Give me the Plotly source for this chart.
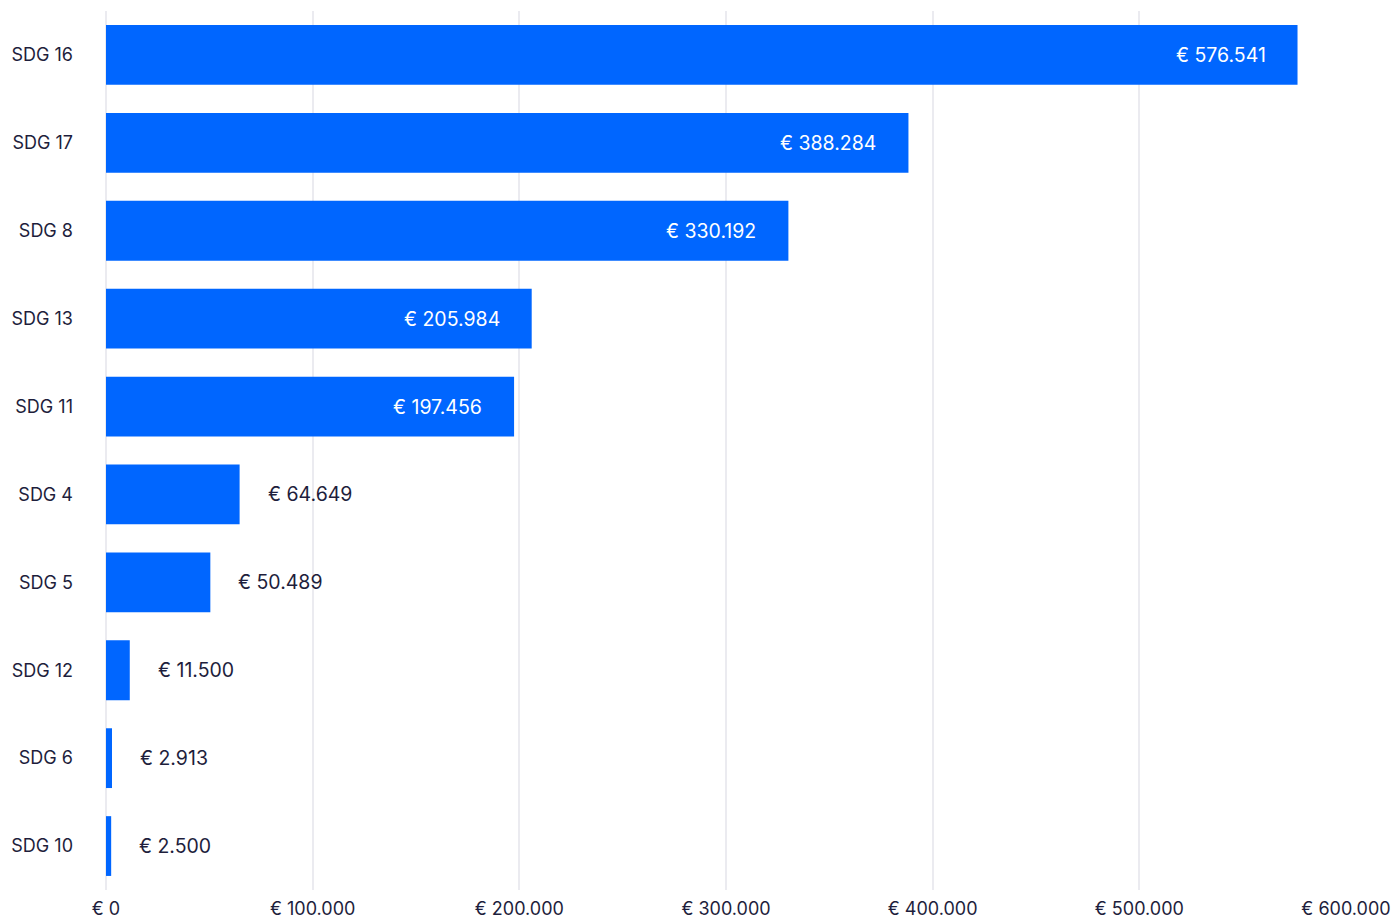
import plotly.graph_objects as go

categories = ["SDG 16", "SDG 17", "SDG 8", "SDG 13", "SDG 11", "SDG 4", "SDG 5", "SDG 12", "SDG 6", "SDG 10"]
values = [576541, 388284, 330192, 205984, 197456, 64649, 50489, 11500, 2913, 2500]
tick_vals = [0, 100000, 200000, 300000, 400000, 500000, 600000]
tick_text = ["€ 0", "€ 100.000", "€ 200.000", "€ 300.000", "€ 400.000", "€ 500.000", "€ 600.000"]

def fmt(v):
    return "€ " + f"{v:,}".replace(",", ".")

BLUE = "#0066FF"
DARK = "#1E1E3C"
FONT = "Inter, Lato, sans-serif"

fig = go.Figure()
fig.add_trace(go.Bar(
    x=values, y=categories, orientation="h",
    marker=dict(color=BLUE, line=dict(width=0)),
    hoverinfo="skip",
))

annotations = []
for c, v in zip(categories, values):
    inside = v > 100000
    annotations.append(dict(
        x=v, y=c, xref="x", yref="y",
        text=fmt(v), showarrow=False,
        xanchor="right" if inside else "left",
        xshift=-30 if inside else 26,
        font=dict(family=FONT, size=19.5, color="white" if inside else DARK),
    ))

fig.update_layout(
    width=1392, height=919,
    margin=dict(l=106, r=46, t=11, b=29),
    paper_bgcolor="white", plot_bgcolor="white",
    bargap=0.32,
    showlegend=False,
    annotations=annotations,
    font=dict(family=FONT, color=DARK, size=18),
    xaxis=dict(
        range=[0, 600000], tickvals=tick_vals, ticktext=tick_text,
        showgrid=True, gridcolor="#EBEBF0", gridwidth=1.5,
        zeroline=True, zerolinecolor="#EBEBF0", zerolinewidth=1.5,
        showline=False, ticks="", automargin=False,
        tickfont=dict(family=FONT, size=18, color=DARK),
        ticklabelstandoff=6,
    ),
    yaxis=dict(
        categoryorder="array", categoryarray=categories[::-1],
        showgrid=False, zeroline=False, showline=False, ticks="",
        automargin=False, ticklabelstandoff=32,
        tickfont=dict(family=FONT, size=18, color=DARK),
    ),
)

fig.write_html(
    "out.html",
    config={"displayModeBar": False},
    post_script="document.body.style.margin='0';document.body.style.overflow='hidden';",
)
